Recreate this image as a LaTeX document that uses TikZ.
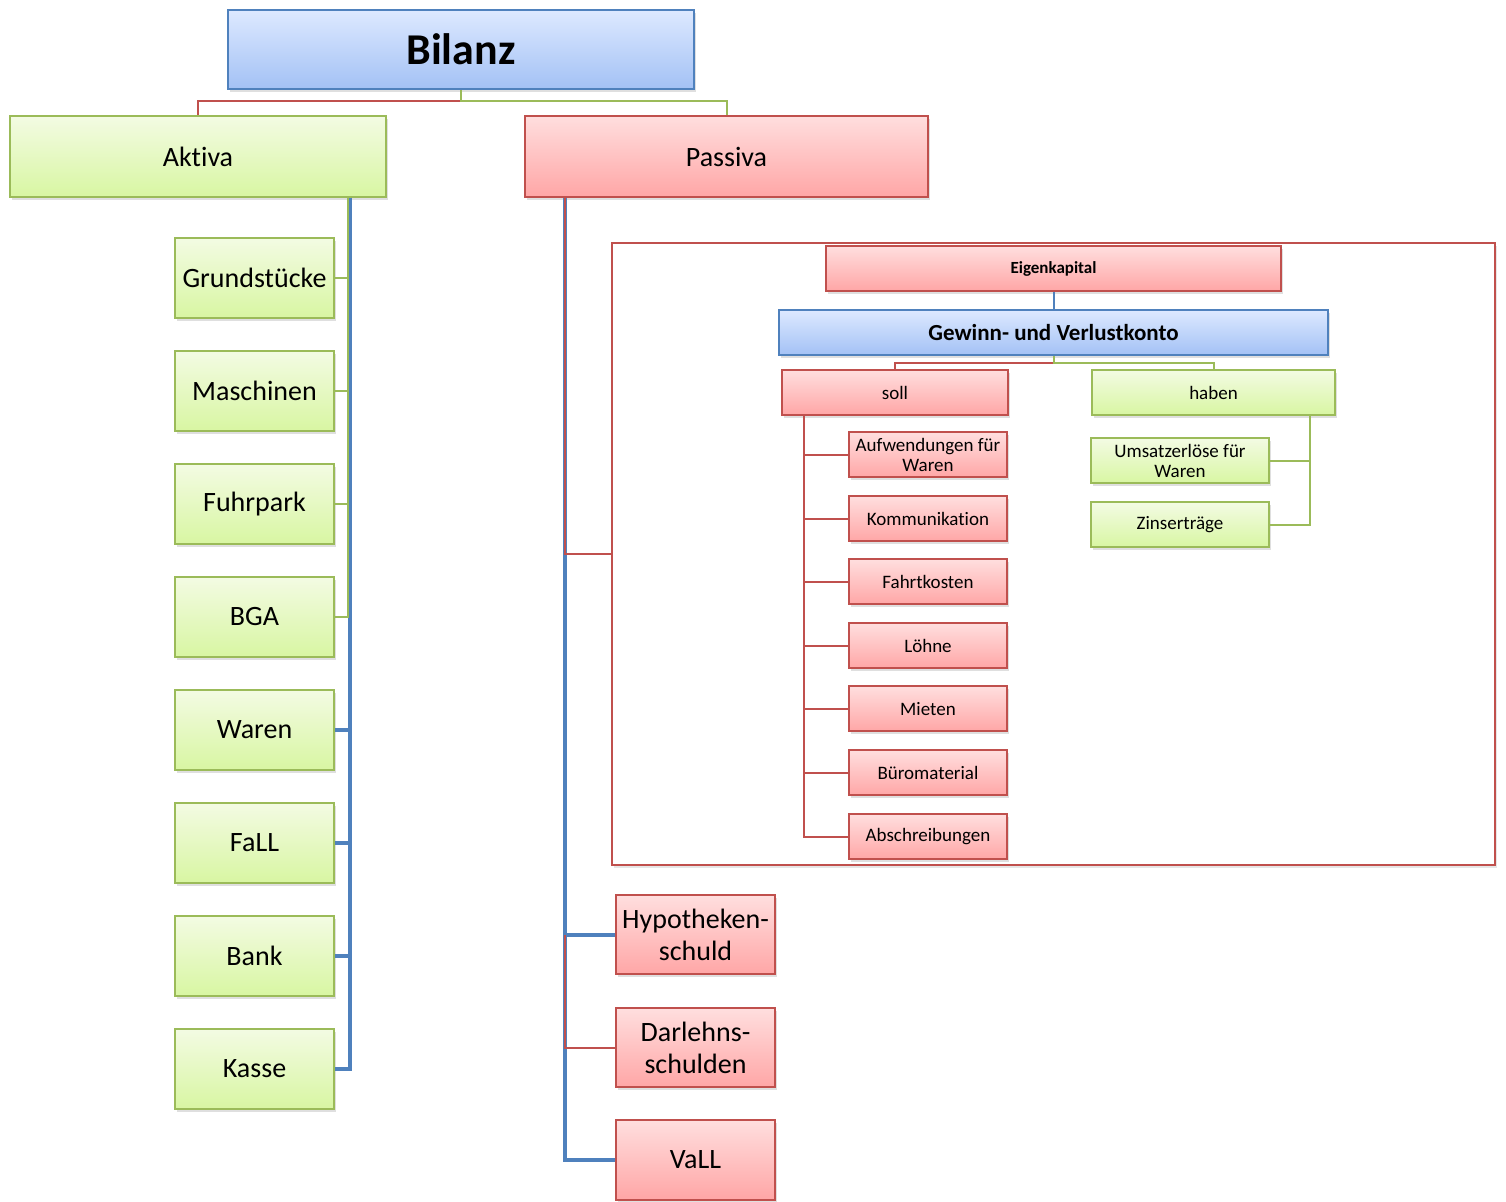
\documentclass[tikz,border=0pt]{standalone}
\usepackage{fontspec}
\setmainfont{Carlito}[Ligatures=NoCommon]
\usetikzlibrary{shadows}

\definecolor{blueedge}{HTML}{4F81BD}
\definecolor{bluetop}{HTML}{DDE9FF}
\definecolor{bluebot}{HTML}{A3C1F5}
\definecolor{greenedge}{HTML}{9BBB59}
\definecolor{greentop}{HTML}{F3FBE3}
\definecolor{greenbot}{HTML}{D8F6A2}
\definecolor{rededge}{HTML}{C0504D}
\definecolor{redtop}{HTML}{FFDEDE}
\definecolor{redbot}{HTML}{FFA6A6}

\tikzset{
  box/.style={draw, line width=1pt, inner sep=1pt, align=center,
    drop shadow={shadow xshift=1pt, shadow yshift=-1.5pt, opacity=0.25}},
  bluebox/.style={box, draw=blueedge, top color=bluetop, bottom color=bluebot},
  greenbox/.style={box, draw=greenedge, top color=greentop, bottom color=greenbot},
  redbox/.style={box, draw=rededge, top color=redtop, bottom color=redbot},
  big/.style={minimum width=79.5pt, minimum height=40pt, font=\fontsize{14}{16}\selectfont},
  small/.style={minimum width=79pt, minimum height=22.5pt, font=\fontsize{9.5}{10}\selectfont},
  redline/.style={draw=rededge, line width=0.8pt},
  greenline/.style={draw=greenedge, line width=1pt},
  blueline/.style={draw=blueedge, line width=1.6pt},
}

\begin{document}
\begin{tikzpicture}[x=0.5pt, y=-0.5pt]
  \useasboundingbox (0,0) rectangle (1506,1202);

  % top level
  \node[bluebox, minimum width=233pt, minimum height=39.5pt, font=\fontsize{22}{24}\selectfont\bfseries] (bilanz) at (461,49.5) {Bilanz};
  \node[greenbox, minimum width=188pt, minimum height=40.5pt, font=\fontsize{14}{16}\selectfont] (aktiva) at (198,156.5) {Aktiva};
  \node[redbox, minimum width=201.5pt, minimum height=40.5pt, font=\fontsize{14}{16}\selectfont] (passiva) at (726.5,156.5) {Passiva};

  \draw[redline] (bilanz.south) -- ++(0,11) -| (aktiva.north);
  \draw[greenline] (bilanz.south) -- ++(0,11) -| (passiva.north);

  % aktiva side
  \node[greenbox, big] (grund) at (254.5,278) {Grundstücke};
  \node[greenbox, big] (masch) at (254.5,391) {Maschinen};
  \node[greenbox, big] (fuhr) at (254.5,504) {Fuhrpark};
  \node[greenbox, big] (bga) at (254.5,617) {BGA};
  \node[greenbox, big] (waren) at (254.5,730) {Waren};
  \node[greenbox, big] (fall) at (254.5,843) {FaLL};
  \node[greenbox, big] (bank) at (254.5,956) {Bank};
  \node[greenbox, big] (kasse) at (254.5,1069) {Kasse};

  \draw[blueline] ([xshift=-18.5pt]aktiva.south east) |- (waren.east);
  \draw[blueline] ([xshift=-18.5pt]aktiva.south east) |- (fall.east);
  \draw[blueline] ([xshift=-18.5pt]aktiva.south east) |- (bank.east);
  \draw[blueline] ([xshift=-18.5pt]aktiva.south east) |- (kasse.east);
  \draw[greenline] ([xshift=-19.5pt]aktiva.south east) |- (grund.east);
  \draw[greenline] ([xshift=-19.5pt]aktiva.south east) |- (masch.east);
  \draw[greenline] ([xshift=-19.5pt]aktiva.south east) |- (fuhr.east);
  \draw[greenline] ([xshift=-19.5pt]aktiva.south east) |- (bga.east);

  % passiva side
  \node[draw=rededge, line width=0.9pt, fill=white, minimum width=441.5pt, minimum height=311pt,
    drop shadow={shadow xshift=1pt, shadow yshift=-1.5pt, opacity=0.2}] (gvframe) at (1053.5,554) {};

  \node[redbox, big, minimum height=39.5pt] (hypo) at (695.5,935) {Hypotheken-\\schuld};
  \node[redbox, big, minimum height=39.5pt] (darl) at (695.5,1048) {Darlehns-\\schulden};
  \node[redbox, big, minimum height=39.5pt] (vall) at (695.5,1160) {VaLL};

  \draw[blueline] ([xshift=20.5pt]passiva.south west) |- (hypo.west);
  \draw[blueline] ([xshift=20.5pt]passiva.south west) |- (vall.west);
  \coordinate (pjoin) at ([xshift=20.5pt]passiva.south west |- hypo.west);
  \draw[redline] (pjoin) |- (darl.west);
  \draw[redline] ([xshift=20.5pt]passiva.south west) |- (gvframe.west);

  % eigenkapital block
  \node[redbox, minimum width=227.5pt, minimum height=22.5pt, font=\fontsize{8.5}{9}\selectfont\bfseries] (eigen) at (1053.5,268.5) {Eigenkapital};
  \node[bluebox, minimum width=274.5pt, minimum height=22.5pt, font=\fontsize{11.5}{13}\selectfont\bfseries] (guv) at (1053.5,332.5) {Gewinn- und Verlustkonto};
  \draw[blueline, line width=1pt] (eigen.south) -- (guv.north);

  \node[redbox, minimum width=113pt, minimum height=22.5pt, font=\fontsize{9.5}{10}\selectfont] (soll) at (895,392.5) {soll};
  \node[greenbox, minimum width=121.5pt, minimum height=22.5pt, font=\fontsize{9.5}{10}\selectfont] (haben) at (1213.5,392.5) {haben};
  \draw[redline] (guv.south) -- ++(0,7) -| (soll.north);
  \draw[greenline] (guv.south) -- ++(0,7) -| (haben.north);

  \node[redbox, small] (aufw) at (928,455) {Aufwendungen für\\Waren};
  \node[redbox, small] (komm) at (928,519) {Kommunikation};
  \node[redbox, small] (fahrt) at (928,582) {Fahrtkosten};
  \node[redbox, small] (loehne) at (928,646) {Löhne};
  \node[redbox, small] (mieten) at (928,709) {Mieten};
  \node[redbox, small] (buero) at (928,773) {Büromaterial};
  \node[redbox, small] (abschr) at (928,837) {Abschreibungen};

  \draw[redline] ([xshift=11.5pt]soll.south west) |- (aufw.west);
  \draw[redline] ([xshift=11.5pt]soll.south west) |- (komm.west);
  \draw[redline] ([xshift=11.5pt]soll.south west) |- (fahrt.west);
  \draw[redline] ([xshift=11.5pt]soll.south west) |- (loehne.west);
  \draw[redline] ([xshift=11.5pt]soll.south west) |- (mieten.west);
  \draw[redline] ([xshift=11.5pt]soll.south west) |- (buero.west);
  \draw[redline] ([xshift=11.5pt]soll.south west) |- (abschr.west);

  \node[greenbox, small, minimum width=89pt] (umsatz) at (1180,461) {Umsatzerlöse für\\Waren};
  \node[greenbox, small, minimum width=89pt] (zins) at (1180,525) {Zinserträge};

  \draw[greenline] ([xshift=-13pt]haben.south east) |- (umsatz.east);
  \draw[greenline] ([xshift=-13pt]haben.south east) |- (zins.east);
\end{tikzpicture}
\end{document}
